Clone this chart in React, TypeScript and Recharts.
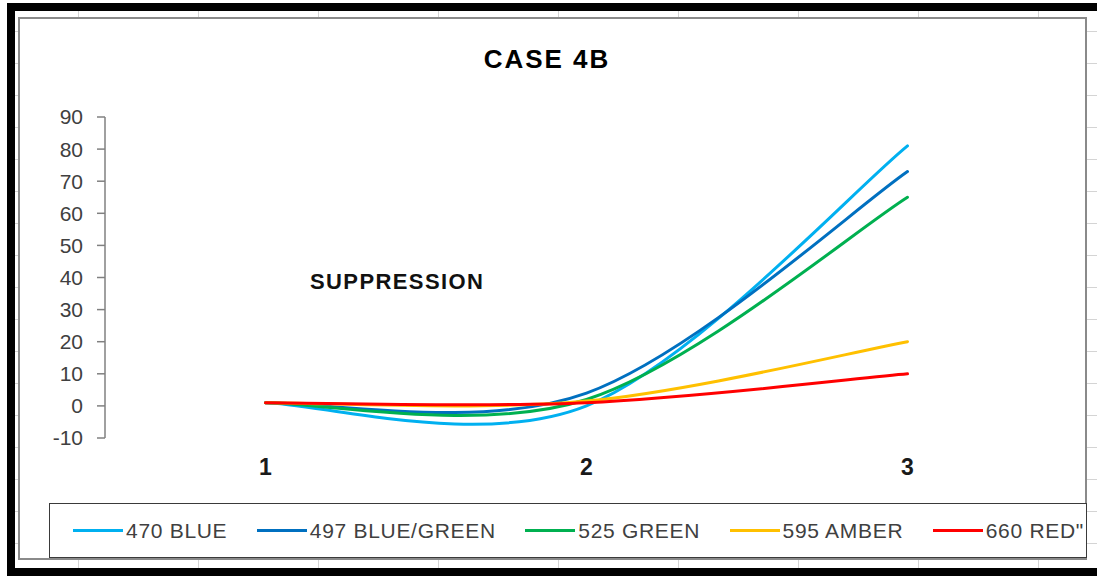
import React from "react";
import { LineChart, Line, XAxis, YAxis } from "recharts";

const categories = ["1", "2", "3"];
const blue470 = [1, 0, 81];
const blueGreen497 = [1, 4, 73];
const green525 = [1, 2, 65];
const amber595 = [1, 1.5, 20];
const red660 = [1, 1, 10];
const yTicks = [-10, 0, 10, 20, 30, 40, 50, 60, 70, 80, 90];

const series = [
  { key: "b470", name: "470 BLUE", values: blue470, color: "#00B0F0" },
  { key: "bg497", name: "497 BLUE/GREEN", values: blueGreen497, color: "#0070C0" },
  { key: "g525", name: "525 GREEN", values: green525, color: "#00B050" },
  { key: "a595", name: "595 AMBER", values: amber595, color: "#FFC000" },
  { key: "r660", name: '660 RED"', values: red660, color: "#FF0000" },
];

const data = categories.map((c, i) => {
  const row: Record<string, string | number> = { x: c };
  series.forEach((s) => {
    row[s.key] = s.values[i];
  });
  return row;
});

// Spreadsheet-style smoothing: a cubic Bezier between each pair of points,
// tangents taken from the neighbouring points (ends reuse the end point).
function excelSmooth(context: any) {
  let pts: number[][] = [];
  return {
    areaStart() {},
    areaEnd() {},
    lineStart() {
      pts = [];
    },
    point(x: number, y: number) {
      pts.push([+x, +y]);
    },
    lineEnd() {
      const n = pts.length;
      if (!n) return;
      context.moveTo(pts[0][0], pts[0][1]);
      for (let i = 0; i < n - 1; i++) {
        const a = pts[Math.max(i - 1, 0)];
        const b = pts[i];
        const c = pts[i + 1];
        const d = pts[Math.min(i + 2, n - 1)];
        context.bezierCurveTo(
          b[0] + (c[0] - a[0]) / 6,
          b[1] + (c[1] - a[1]) / 6,
          c[0] - (d[0] - b[0]) / 6,
          c[1] - (d[1] - b[1]) / 6,
          c[0],
          c[1],
        );
      }
    },
  };
}

export default function App() {
  return (
    <div
      style={{
        position: "absolute",
        left: 0,
        top: 0,
        width: 1097,
        height: 576,
        overflow: "hidden",
        background: "#fff",
        fontFamily: "'Liberation Sans', Arial, sans-serif",
      }}
    >
      {/* sheet cells behind the chart, inside the heavy black frame */}
      <div
        style={{
          position: "absolute",
          left: 7,
          top: 3,
          width: 1200,
          height: 557,
          border: "8px solid #000",
          backgroundColor: "#fff",
          backgroundImage:
            "linear-gradient(to right, #d4d4d4 1px, transparent 1px), linear-gradient(to bottom, #d4d4d4 1px, transparent 1px)",
          backgroundSize: "120px 32px",
          backgroundPosition: "63px 20px",
        }}
      />
      {/* chart area */}
      <div
        style={{
          position: "absolute",
          left: 18,
          top: 17,
          width: 1069,
          height: 543,
          boxSizing: "border-box",
          border: "2px solid #8a8a8a",
          background: "#fff",
        }}
      />
      <div style={{ position: "absolute", left: 0, top: 0 }}>
        <LineChart
          width={1097}
          height={576}
          data={data}
          margin={{ top: 117, right: 29, bottom: 98, left: 45 }}
        >
          {/* categories sit in the middle of equal bands */}
          <XAxis
            dataKey="x"
            axisLine={false}
            tickLine={false}
            tickSize={0}
            tickMargin={21}
            height={40}
            interval={0}
            padding={{ left: 160.5, right: 160.5 }}
            tick={{ fontSize: 23, fontWeight: "bold", fill: "#1a1a1a" }}
          />
          <YAxis
            domain={[-10, 90]}
            ticks={yTicks}
            interval={0}
            width={60}
            axisLine={{ stroke: "#808080", strokeWidth: 1.5 }}
            tickLine={{ stroke: "#808080", strokeWidth: 1.5 }}
            tickSize={8}
            tickMargin={14}
            tick={{ fontSize: 21, fill: "#404040" }}
          />
          {series.map((s) => (
            <Line
              key={s.key}
              dataKey={s.key}
              name={s.name}
              type={excelSmooth as any}
              stroke={s.color}
              strokeWidth={3}
              strokeLinecap="round"
              dot={false}
              activeDot={false}
              isAnimationActive={false}
            />
          ))}
        </LineChart>
      </div>
      <div
        style={{
          position: "absolute",
          left: 347,
          top: 46,
          width: 400,
          textAlign: "center",
          fontSize: 26,
          lineHeight: "26px",
          fontWeight: "bold",
          letterSpacing: 2,
          color: "#000",
        }}
      >
        CASE 4B
      </div>
      <div
        style={{
          position: "absolute",
          left: 310,
          top: 271,
          fontSize: 22,
          lineHeight: "22px",
          fontWeight: "bold",
          letterSpacing: 1.4,
          color: "#111",
        }}
      >
        SUPPRESSION
      </div>
      {/* legend */}
      <div
        style={{
          position: "absolute",
          left: 49,
          top: 503,
          width: 1038,
          height: 55,
          boxSizing: "border-box",
          border: "1.5px solid #3a3a3a",
          background: "#fff",
          display: "flex",
          alignItems: "center",
          justifyContent: "space-between",
          padding: "0 2px 0 23px",
        }}
      >
        {series.map((s) => (
          <div key={s.key} style={{ display: "flex", alignItems: "center" }}>
            <span
              style={{
                display: "inline-block",
                width: 50,
                height: 3,
                background: s.color,
                marginRight: 3,
              }}
            />
            <span style={{ fontSize: 21, color: "#404040", letterSpacing: 0.7 }}>{s.name}</span>
          </div>
        ))}
      </div>
    </div>
  );
}
